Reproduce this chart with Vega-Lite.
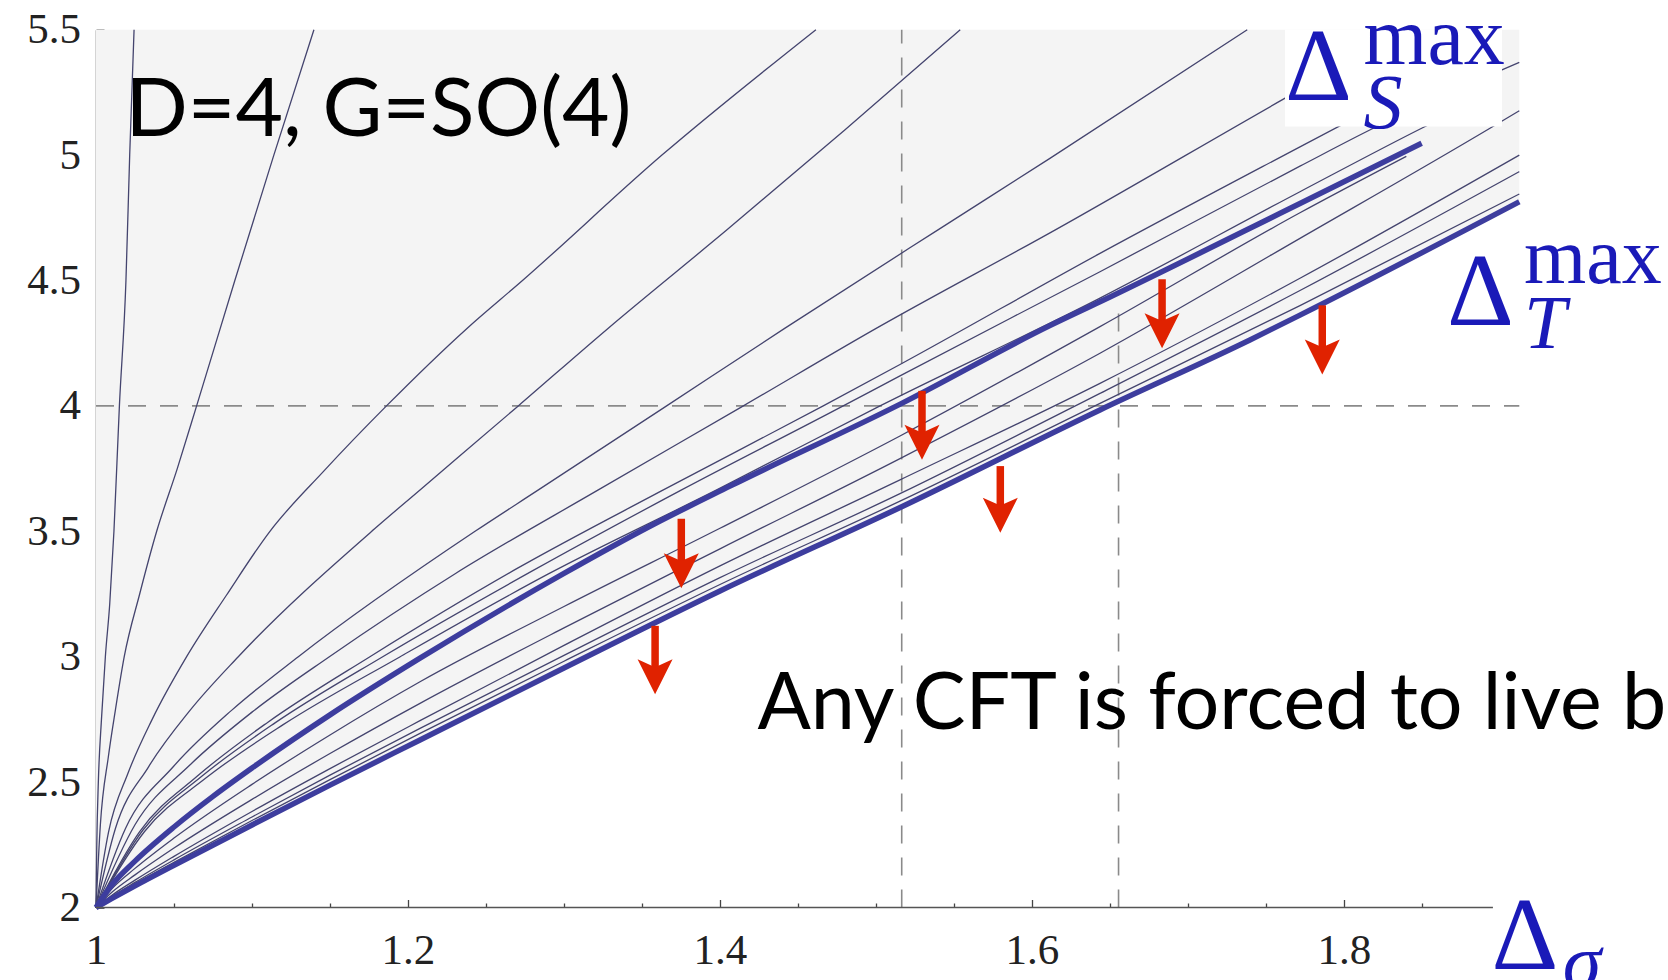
{
  "$schema": "https://vega.github.io/schema/vega-lite/v6.json",
  "width": 1423.3,
  "height": 877.8,
  "autosize": {"type": "none"},
  "padding": {"left": 96, "top": 29.7, "right": 148.7, "bottom": 72.5},
  "background": "white",
  "config": {"view": {"stroke": null}, "axis": {"grid": false}},
  "data": {"values": [{}]},
  "datasets": {
    "curves": [
      {"s":"A","x":1,"y":2},{"s":"A","x":1.0005,"y":2.25},{"s":"A","x":1.0015,"y":2.5},{"s":"A","x":1.0035,"y":2.75},{"s":"A","x":1.006,"y":3.0},{"s":"A","x":1.0088,"y":3.21},{"s":"A","x":1.0115,"y":3.5},{"s":"A","x":1.015,"y":4.0},{"s":"A","x":1.0192,"y":4.5},{"s":"A","x":1.0216,"y":5.0},{"s":"A","x":1.0244,"y":5.5},
      {"s":"B","x":1,"y":2},{"s":"B","x":1.0028,"y":2.33},{"s":"B","x":1.0079,"y":2.6},{"s":"B","x":1.0125,"y":2.79},{"s":"B","x":1.0181,"y":3.0},{"s":"B","x":1.028,"y":3.25},{"s":"B","x":1.0389,"y":3.5},{"s":"B","x":1.0521,"y":3.75},{"s":"B","x":1.0645,"y":4.0},{"s":"B","x":1.089,"y":4.5},{"s":"B","x":1.114,"y":5.0},{"s":"B","x":1.1397,"y":5.5},
      {"s":"C","x":1,"y":2},{"s":"C","x":1.008,"y":2.3},{"s":"C","x":1.0205,"y":2.535},{"s":"C","x":1.036,"y":2.75},{"s":"C","x":1.0581,"y":3.0},{"s":"C","x":1.0836,"y":3.245},{"s":"C","x":1.1115,"y":3.5},{"s":"C","x":1.146,"y":3.74},{"s":"C","x":1.1862,"y":4.0},{"s":"C","x":1.238,"y":4.31},{"s":"C","x":1.2734,"y":4.5},{"s":"C","x":1.3628,"y":5.0},{"s":"C","x":1.4615,"y":5.5},
      {"s":"D","x":1,"y":2},{"s":"D","x":1.0124,"y":2.314},{"s":"D","x":1.0336,"y":2.56},{"s":"D","x":1.06,"y":2.784},{"s":"D","x":1.0912,"y":3.0},{"s":"D","x":1.1786,"y":3.51},{"s":"D","x":1.2077,"y":3.665},{"s":"D","x":1.2707,"y":4.0},{"s":"D","x":1.3284,"y":4.31},{"s":"D","x":1.4043,"y":4.701},{"s":"D","x":1.48,"y":5.1},{"s":"D","x":1.554,"y":5.5},
      {"s":"E","x":1,"y":2},{"s":"E","x":1.0189,"y":2.315},{"s":"E","x":1.0495,"y":2.561},{"s":"E","x":1.0869,"y":2.786},{"s":"E","x":1.1297,"y":3.0},{"s":"E","x":1.243,"y":3.5},{"s":"E","x":1.2836,"y":3.665},{"s":"E","x":1.3658,"y":4.0},{"s":"E","x":1.4417,"y":4.31},{"s":"E","x":1.5395,"y":4.701},{"s":"E","x":1.6115,"y":4.987},{"s":"E","x":1.738,"y":5.5},
      {"s":"F","x":1,"y":2},{"s":"F","x":1.025,"y":2.33},{"s":"F","x":1.06,"y":2.567},{"s":"F","x":1.1,"y":2.779},{"s":"F","x":1.1496,"y":3.0},{"s":"F","x":1.23,"y":3.33},{"s":"F","x":1.322,"y":3.665},{"s":"F","x":1.415,"y":4.0},{"s":"F","x":1.5004,"y":4.31},{"s":"F","x":1.6147,"y":4.701},{"s":"F","x":1.762,"y":5.226},{"s":"F","x":1.84,"y":5.5},
      {"s":"G","x":1,"y":2},{"s":"G","x":1.028,"y":2.303},{"s":"G","x":1.065,"y":2.524},{"s":"G","x":1.11,"y":2.738},{"s":"G","x":1.1756,"y":3.0},{"s":"G","x":1.27,"y":3.352},{"s":"G","x":1.3637,"y":3.665},{"s":"G","x":1.4662,"y":4.0},{"s":"G","x":1.5154,"y":4.165},{"s":"G","x":1.6436,"y":4.608},{"s":"G","x":1.7718,"y":5.033},{"s":"G","x":1.89,"y":5.42},
      {"s":"H","x":1,"y":2},{"s":"H","x":1.03,"y":2.308},{"s":"H","x":1.068,"y":2.524},{"s":"H","x":1.115,"y":2.737},{"s":"H","x":1.1838,"y":3.0},{"s":"H","x":1.28,"y":3.343},{"s":"H","x":1.3754,"y":3.665},{"s":"H","x":1.479,"y":4.0},{"s":"H","x":1.5154,"y":4.12},{"s":"H","x":1.6436,"y":4.535},{"s":"H","x":1.7718,"y":4.956},{"s":"H","x":1.8188,"y":5.107},{"s":"H","x":1.9124,"y":5.37},
      {"s":"I","x":1,"y":2},{"s":"I","x":1.031,"y":2.302},{"s":"I","x":1.07,"y":2.514},{"s":"I","x":1.12,"y":2.729},{"s":"I","x":1.195,"y":3.0},{"s":"I","x":1.29,"y":3.33},{"s":"I","x":1.3979,"y":3.665},{"s":"I","x":1.5026,"y":4.0},{"s":"I","x":1.6436,"y":4.43},{"s":"I","x":1.7718,"y":4.854},{"s":"I","x":1.8498,"y":5.107},{"s":"I","x":1.88,"y":5.2},
      {"s":"S","x":1,"y":2},{"s":"S","x":1.01,"y":2.089},{"s":"S","x":1.025,"y":2.185},{"s":"S","x":1.05,"y":2.321},{"s":"S","x":1.075,"y":2.443},{"s":"S","x":1.1,"y":2.556},{"s":"S","x":1.15,"y":2.768},{"s":"S","x":1.2077,"y":2.994},{"s":"S","x":1.3,"y":3.332},{"s":"S","x":1.3551,"y":3.52},{"s":"S","x":1.4064,"y":3.68},{"s":"S","x":1.5165,"y":4.01},{"s":"S","x":1.6115,"y":4.32},{"s":"S","x":1.6436,"y":4.415},{"s":"S","x":1.7718,"y":4.807},{"s":"S","x":1.8498,"y":5.047},
      {"s":"J","x":1,"y":2},{"s":"J","x":1.01,"y":2.074},{"s":"J","x":1.025,"y":2.156},{"s":"J","x":1.05,"y":2.277},{"s":"J","x":1.1,"y":2.491},{"s":"J","x":1.15,"y":2.688},{"s":"J","x":1.2077,"y":2.9},{"s":"J","x":1.3,"y":3.2},{"s":"J","x":1.4,"y":3.512},{"s":"J","x":1.5154,"y":3.88},{"s":"J","x":1.6436,"y":4.316},{"s":"J","x":1.7718,"y":4.77},{"s":"J","x":1.84,"y":4.995},
      {"s":"K","x":1,"y":2},{"s":"K","x":1.01,"y":2.06},{"s":"K","x":1.025,"y":2.13},{"s":"K","x":1.05,"y":2.237},{"s":"K","x":1.1,"y":2.431},{"s":"K","x":1.15,"y":2.614},{"s":"K","x":1.2077,"y":2.814},{"s":"K","x":1.3,"y":3.115},{"s":"K","x":1.4,"y":3.43},{"s":"K","x":1.5154,"y":3.79},{"s":"K","x":1.6436,"y":4.21},{"s":"K","x":1.7718,"y":4.668},{"s":"K","x":1.8936,"y":5.107},{"s":"K","x":1.9124,"y":5.177},
      {"s":"L","x":1,"y":2},{"s":"L","x":1.01,"y":2.048},{"s":"L","x":1.025,"y":2.109},{"s":"L","x":1.05,"y":2.204},{"s":"L","x":1.1,"y":2.383},{"s":"L","x":1.15,"y":2.554},{"s":"L","x":1.2077,"y":2.745},{"s":"L","x":1.3,"y":3.045},{"s":"L","x":1.4,"y":3.362},{"s":"L","x":1.5154,"y":3.705},{"s":"L","x":1.6436,"y":4.09},{"s":"L","x":1.7718,"y":4.509},{"s":"L","x":1.9124,"y":5.0},
      {"s":"M","x":1,"y":2},{"s":"M","x":1.01,"y":2.043},{"s":"M","x":1.025,"y":2.1},{"s":"M","x":1.05,"y":2.19},{"s":"M","x":1.1,"y":2.361},{"s":"M","x":1.15,"y":2.528},{"s":"M","x":1.2077,"y":2.714},{"s":"M","x":1.3,"y":3.005},{"s":"M","x":1.4,"y":3.315},{"s":"M","x":1.5154,"y":3.65},{"s":"M","x":1.6436,"y":4.05},{"s":"M","x":1.7718,"y":4.46},{"s":"M","x":1.9124,"y":4.934},
      {"s":"N","x":1,"y":2},{"s":"N","x":1.01,"y":2.04},{"s":"N","x":1.025,"y":2.094},{"s":"N","x":1.05,"y":2.18},{"s":"N","x":1.1,"y":2.347},{"s":"N","x":1.15,"y":2.51},{"s":"N","x":1.2077,"y":2.694},{"s":"N","x":1.3,"y":2.982},{"s":"N","x":1.4,"y":3.288},{"s":"N","x":1.5154,"y":3.62},{"s":"N","x":1.6436,"y":4.01},{"s":"N","x":1.7718,"y":4.4},{"s":"N","x":1.9124,"y":4.845},
      {"s":"T","x":1,"y":2},{"s":"T","x":1.01,"y":2.035},{"s":"T","x":1.025,"y":2.086},{"s":"T","x":1.05,"y":2.168},{"s":"T","x":1.1,"y":2.329},{"s":"T","x":1.15,"y":2.488},{"s":"T","x":1.2077,"y":2.668},{"s":"T","x":1.3,"y":2.955},{"s":"T","x":1.4,"y":3.262},{"s":"T","x":1.5165,"y":3.598},{"s":"T","x":1.6436,"y":3.984},{"s":"T","x":1.7397,"y":4.263},{"s":"T","x":1.7718,"y":4.362},{"s":"T","x":1.9124,"y":4.814}
    ],
    "arrows": [
      {"x":1.3752,"y0":3.55,"y1":3.343},
      {"x":1.3584,"y0":3.123,"y1":2.92},
      {"x":1.5295,"y0":4.06,"y1":3.855},
      {"x":1.5797,"y0":3.76,"y1":3.564},
      {"x":1.6834,"y0":4.505,"y1":4.30},
      {"x":1.7861,"y0":4.401,"y1":4.195}
    ]
  },
  "resolve": {"scale": {"x": "shared", "y": "shared"}, "axis": {"x": "independent", "y": "independent"}},
  "layer": [
    {
      "data": {"name": "curves"},
      "transform": [{"filter": "datum.s === 'T'"}],
      "mark": {"type": "area", "color": "#f4f4f4", "opacity": 1, "interpolate": "monotone"},
      "encoding": {
        "x": {"field": "x", "type": "quantitative",
          "scale": {"domain": [1, 1.9124], "nice": false, "zero": false},
          "axis": {
            "orient": "bottom", "title": null, "domain": false, "grid": false,
            "values": [1, 1.2, 1.4, 1.6, 1.8], "format": ".1~f",
            "tickColor": "#444", "tickWidth": 1.3, "tickSize": -8,
            "labelFont": "Liberation Serif", "labelFontSize": 43, "labelColor": "#222",
            "labelPadding": 29.5, "labelFlush": false, "labelOverlap": false, "labelBound": false
          }},
        "y": {"field": "y", "type": "quantitative",
          "scale": {"domain": [2, 5.5], "nice": false, "zero": false},
          "axis": {
            "orient": "left", "title": null, "grid": false,
            "domainColor": "#555", "domainWidth": 1.5,
            "values": [2, 2.5, 3, 3.5, 4, 4.5, 5, 5.5], "format": ".1~f",
            "tickColor": "#444", "tickWidth": 1.3, "tickSize": -8,
            "labelFont": "Liberation Serif", "labelFontSize": 43, "labelColor": "#222",
            "labelPadding": 23.5, "labelFlush": false, "labelOverlap": false, "labelBound": false
          }},
        "y2": {"datum": 5.5}
      }
    },
    {
      "mark": {"type": "rule", "color": "#8a8a8a", "strokeWidth": 1.6, "strokeDash": [18, 14]},
      "encoding": {"x": {"datum": 1, "axis": null}, "x2": {"datum": 1.9124}, "y": {"datum": 4, "axis": null}}
    },
    {
      "mark": {"type": "rule", "color": "#8a8a8a", "strokeWidth": 1.6, "strokeDash": [18, 14]},
      "encoding": {"x": {"datum": 1.5165, "axis": null}, "y": {"datum": 2, "axis": null}, "y2": {"datum": 5.5}}
    },
    {
      "mark": {"type": "rule", "color": "#8a8a8a", "strokeWidth": 1.6, "strokeDash": [18, 14]},
      "encoding": {"x": {"datum": 1.6555, "axis": null}, "y": {"datum": 2, "axis": null}, "y2": {"datum": 4.38}}
    },
    {
      "data": {"name": "curves"},
      "transform": [{"filter": "datum.s !== 'S' && datum.s !== 'T'"}],
      "mark": {"type": "line", "color": "#44446e", "strokeWidth": 1.3, "interpolate": "monotone"},
      "encoding": {
        "x": {"field": "x", "type": "quantitative",
          "axis": {
            "orient": "bottom", "title": null, "domain": false, "grid": false, "labels": false,
            "values": [1.05, 1.1, 1.15, 1.25, 1.3, 1.35, 1.45, 1.5, 1.55, 1.65, 1.7, 1.75, 1.85],
            "tickColor": "#444", "tickWidth": 1.3, "tickSize": -4.5
          }},
        "y": {"field": "y", "type": "quantitative",
          "axis": {
            "orient": "left", "title": null, "domain": false, "grid": false, "labels": false,
            "values": [2.1,2.2,2.3,2.4,2.6,2.7,2.8,2.9,3.1,3.2,3.3,3.4,3.6,3.7,3.8,3.9,4.1,4.2,4.3,4.4,4.6,4.7,4.8,4.9,5.1,5.2,5.3,5.4],
            "tickColor": "#444", "tickWidth": 1.3, "tickSize": -4.5
          }},
        "detail": {"field": "s"}
      }
    },
    {
      "data": {"name": "curves"},
      "transform": [{"filter": "datum.s === 'S' || datum.s === 'T'"}],
      "mark": {"type": "line", "color": "#3d3d9e", "strokeWidth": 5.5, "interpolate": "monotone"},
      "encoding": {
        "x": {"field": "x", "type": "quantitative", "axis": null},
        "y": {"field": "y", "type": "quantitative", "axis": null},
        "detail": {"field": "s"}
      }
    },
    {
      "mark": {"type": "rule", "color": "#555", "strokeWidth": 1.5},
      "encoding": {"x": {"datum": 1, "axis": null}, "x2": {"datum": 1.8955}, "y": {"datum": 2, "axis": null}}
    },
    {
      "mark": {"type": "rect", "color": "white"},
      "encoding": {"x": {"datum": 1.7622, "axis": null}, "x2": {"datum": 1.9013}, "y": {"datum": 5.114, "axis": null}, "y2": {"datum": 5.5}}
    },
    {
      "data": {"name": "arrows"},
      "mark": {"type": "rule", "color": "#e02200", "strokeWidth": 7.5},
      "encoding": {
        "x": {"field": "x", "type": "quantitative", "axis": null},
        "y": {"field": "y0", "type": "quantitative", "axis": null},
        "y2": {"field": "y1"}
      }
    },
    {
      "data": {"name": "arrows"},
      "mark": {"type": "point", "shape": "M0,1 L-1,-1 L0,-0.55 L1,-1 Z", "filled": true, "color": "#e02200", "size": 1225, "opacity": 1, "strokeWidth": 0},
      "encoding": {
        "x": {"field": "x", "type": "quantitative", "axis": null},
        "y": {"field": "y1", "type": "quantitative", "axis": null}
      }
    },
    {
      "mark": {"type": "text", "text": "D=4, G=SO(4)", "font": "Lato", "fontSize": 82, "color": "black", "align": "left", "baseline": "alphabetic"},
      "encoding": {"x": {"datum": 1.0189, "axis": null}, "y": {"datum": 5.076, "axis": null}}
    },
    {
      "mark": {"type": "text", "text": "Any CFT is forced to live below", "font": "Lato", "fontSize": 79, "color": "black", "align": "left", "baseline": "alphabetic"},
      "encoding": {"x": {"datum": 1.424, "axis": null}, "y": {"datum": 2.713, "axis": null}}
    },
    {
      "mark": {"type": "text", "text": "Δ", "font": "Liberation Serif", "fontSize": 104, "color": "#1a1ab8", "align": "left", "baseline": "alphabetic"},
      "encoding": {"x": {"datum": 1.7622, "axis": null}, "y": {"datum": 5.22, "axis": null}}
    },
    {
      "mark": {"type": "text", "text": "max", "font": "Liberation Serif", "fontSize": 82, "color": "#1a1ab8", "align": "left", "baseline": "alphabetic"},
      "encoding": {"x": {"datum": 1.8126, "axis": null}, "y": {"datum": 5.365, "axis": null}}
    },
    {
      "mark": {"type": "text", "text": "S", "font": "Liberation Serif", "fontStyle": "italic", "fontSize": 78, "color": "#1a1ab8", "align": "left", "baseline": "alphabetic"},
      "encoding": {"x": {"datum": 1.8126, "axis": null}, "y": {"datum": 5.11, "axis": null}}
    },
    {
      "mark": {"type": "text", "text": "Δ", "font": "Liberation Serif", "fontSize": 104, "color": "#1a1ab8", "align": "left", "baseline": "alphabetic"},
      "encoding": {"x": {"datum": 1.866, "axis": null}, "y": {"datum": 4.3226, "axis": null}}
    },
    {
      "mark": {"type": "text", "text": "max", "font": "Liberation Serif", "fontSize": 80, "color": "#1a1ab8", "align": "left", "baseline": "alphabetic"},
      "encoding": {"x": {"datum": 1.9154, "axis": null}, "y": {"datum": 4.49, "axis": null}}
    },
    {
      "mark": {"type": "text", "text": "T", "font": "Liberation Serif", "fontStyle": "italic", "fontSize": 76, "color": "#1a1ab8", "align": "left", "baseline": "alphabetic"},
      "encoding": {"x": {"datum": 1.9154, "axis": null}, "y": {"datum": 4.2297, "axis": null}}
    },
    {
      "mark": {"type": "text", "text": "Δ", "font": "Liberation Serif", "fontSize": 104, "color": "#1a1ab8", "align": "left", "baseline": "alphabetic"},
      "encoding": {"x": {"datum": 1.8946, "axis": null}, "y": {"datum": 1.754, "axis": null}}
    },
    {
      "mark": {"type": "text", "text": "σ", "font": "Liberation Serif", "fontStyle": "italic", "fontSize": 78, "color": "#1a1ab8", "align": "left", "baseline": "alphabetic"},
      "encoding": {"x": {"datum": 1.9403, "axis": null}, "y": {"datum": 1.68, "axis": null}}
    }
  ]
}
